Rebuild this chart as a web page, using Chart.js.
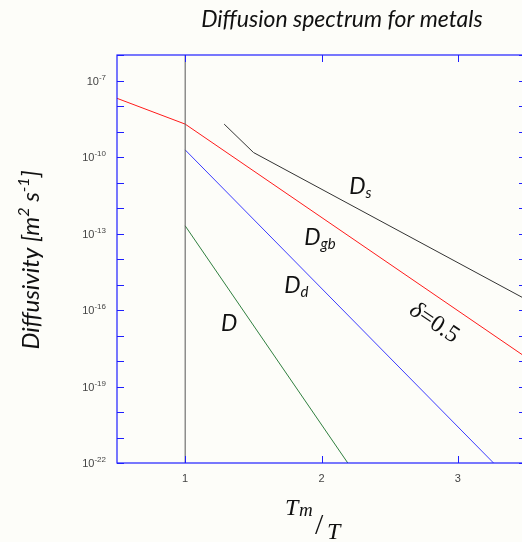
<!DOCTYPE html>
<html>
<head>
<meta charset="utf-8">
<script src="https://cdn.jsdelivr.net/npm/chart.js@4"></script>
<style>
  html, body { margin: 0; padding: 0; background: #fdfdf9; overflow: hidden; }
  #wrap { width: 522px; height: 542px; overflow: hidden; }
</style>
</head>
<body>
<div id="wrap"><canvas id="myCanvas" width="540" height="542"></canvas></div>
<script>
// x = Tm/T, y = diffusivity in m^2/s
const latticeX = [1, 2.193];
const latticeD = [2.0e-13, 1e-22];
const dislocX = [1, 3.262];
const dislocD = [1.9e-10, 1e-22];
const boundaryX = [0.5, 1, 3.5];
const boundaryD = [2.0e-8, 1.95e-9, 1.4e-18];
const surfaceX = [1.286, 1.501, 3.5];
const surfaceD = [1.95e-9, 1.5e-10, 2.6e-16];
const meltX = [1, 1];
const meltD = [1e-22, 1e-6];

const xTicks = [1, 2, 3];
const yDecades = [-22, -21, -20, -19, -18, -17, -16, -15, -14, -13, -12, -11, -10, -9, -8, -7, -6];
const yLabelled = [-22, -19, -16, -13, -10, -7];

const canvas = document.querySelector("#myCanvas");
const frameColor = "#1f1fff";
const tickFont = '11px "Liberation Sans", Arial, sans-serif';
const expFont = '8px "Liberation Sans", Arial, sans-serif';
const labelFamily = 'Lato, "Open Sans", sans-serif';
const serif = '"Liberation Serif", "DejaVu Serif", serif';

function toPoints(xs, ys) {
  return xs.map((x, i) => ({ x: x, y: ys[i] }));
}

function drawRuns(ctx, runs, x, y, align) {
  let w = 0;
  runs.forEach((r) => {
    ctx.font = r.font;
    w += ctx.measureText(r.text).width;
  });
  let cx = x;
  if (align === "right") cx = x - w;
  if (align === "center") cx = x - w / 2;
  runs.forEach((r) => {
    ctx.font = r.font;
    ctx.fillText(r.text, cx, y + (r.dy || 0));
    cx += ctx.measureText(r.text).width;
  });
}

// curve labels, placed in data coordinates (left edge / baseline)
const curveLabels = [
  { x: 2.203, y: 3.5e-12, sub: "s" },
  { x: 1.873, y: 3.5e-14, sub: "gb" },
  { x: 1.726, y: 4.8e-16, sub: "d" },
  { x: 1.262, y: 1.5e-17, sub: "" },
];

const decorations = {
  id: "decorations",
  afterDatasetsDraw(chart) {
    const ctx = chart.ctx;
    const area = chart.chartArea;
    const xs = chart.scales.x;
    const ys = chart.scales.y;
    ctx.save();

    // frame
    ctx.strokeStyle = frameColor;
    ctx.lineWidth = 1.2;
    ctx.strokeRect(area.left, area.top, area.right - area.left, area.bottom - area.top);

    // inward ticks
    ctx.lineWidth = 1;
    ctx.beginPath();
    yDecades.forEach((e) => {
      const py = Math.round(ys.getPixelForValue(Math.pow(10, e))) + 0.5;
      ctx.moveTo(area.left, py);
      ctx.lineTo(area.left + 7, py);
      ctx.moveTo(area.right, py);
      ctx.lineTo(area.right - 7, py);
    });
    xTicks.forEach((v) => {
      const px = Math.round(xs.getPixelForValue(v)) + 0.5;
      ctx.moveTo(px, area.bottom);
      ctx.lineTo(px, area.bottom - 7);
      ctx.moveTo(px, area.top);
      ctx.lineTo(px, area.top + 7);
    });
    ctx.stroke();

    // tick labels
    ctx.fillStyle = "#444";
    ctx.textBaseline = "alphabetic";
    yLabelled.forEach((e) => {
      const py = ys.getPixelForValue(Math.pow(10, e));
      drawRuns(ctx, [
        { text: "10", font: tickFont },
        { text: String(e), font: expFont, dy: -5 },
      ], area.left - 11, py + 4, "right");
    });
    xTicks.forEach((v) => {
      const px = xs.getPixelForValue(v);
      drawRuns(ctx, [{ text: String(v), font: tickFont }], px, area.bottom + 19, "center");
    });

    // title
    ctx.fillStyle = "#111";
    drawRuns(ctx, [{ text: "Diffusion spectrum for metals", font: "italic 23px " + labelFamily }], 342, 27, "center");

    // y axis title
    ctx.save();
    ctx.translate(39, 260);
    ctx.rotate(-Math.PI / 2);
    drawRuns(ctx, [
      { text: "Diffusivity [m", font: "italic 24px " + labelFamily },
      { text: "2", font: "italic 16px " + labelFamily, dy: -10 },
      { text: " s", font: "italic 24px " + labelFamily },
      { text: "-1", font: "italic 16px " + labelFamily, dy: -10 },
      { text: "]", font: "italic 24px " + labelFamily },
    ], 0, 0, "center");
    ctx.restore();

    // x axis title  Tm / T
    ctx.font = "italic 24px " + serif;
    ctx.fillText("T", 285, 515);
    ctx.font = "italic 19px " + serif;
    ctx.fillText("m", 299, 516);
    ctx.font = "30px " + serif;
    ctx.fillText("/", 315, 534);
    ctx.font = "italic 24px " + serif;
    ctx.fillText("T", 327, 539);

    // curve labels
    curveLabels.forEach((l) => {
      const px = xs.getPixelForValue(l.x);
      const py = ys.getPixelForValue(l.y);
      drawRuns(ctx, [
        { text: "D", font: "italic 23px " + labelFamily },
        { text: l.sub, font: "italic 15px " + labelFamily, dy: 4 },
      ], px, py, "left");
    });

    // delta label along the grain boundary line
    ctx.save();
    ctx.translate(xs.getPixelForValue(2.826), ys.getPixelForValue(3.1e-17));
    ctx.rotate((34 * Math.PI) / 180);
    ctx.textBaseline = "middle";
    drawRuns(ctx, [
      { text: "\u03b4", font: "italic 24px " + serif },
      { text: "=0.5", font: "24px " + serif },
    ], 0, 0, "center");
    ctx.restore();

    ctx.restore();
  },
};

function lineSet(xs, ys, color) {
  return {
    data: toPoints(xs, ys),
    borderColor: color,
    borderWidth: 1,
    pointRadius: 0,
    tension: 0,
    fill: false,
  };
}

const config = {
  type: "line",
  data: {
    datasets: [
      lineSet(meltX, meltD, "#555555"),
      lineSet(latticeX, latticeD, "#2f7f3f"),
      lineSet(dislocX, dislocD, "#3c3cff"),
      lineSet(boundaryX, boundaryD, "#ff1a1a"),
      lineSet(surfaceX, surfaceD, "#333333"),
    ],
  },
  options: {
    responsive: false,
    animation: false,
    layout: { padding: { left: 117, top: 55, right: 14, bottom: 79 } },
    plugins: {
      legend: { display: false },
      tooltip: { enabled: false },
    },
    scales: {
      x: { type: "linear", min: 0.5, max: 3.5, display: false },
      y: { type: "logarithmic", min: 1e-22, max: 1e-6, display: false },
    },
  },
  plugins: [decorations],
};

const myChart = new Chart(canvas, config);
</script>
</body>
</html>
